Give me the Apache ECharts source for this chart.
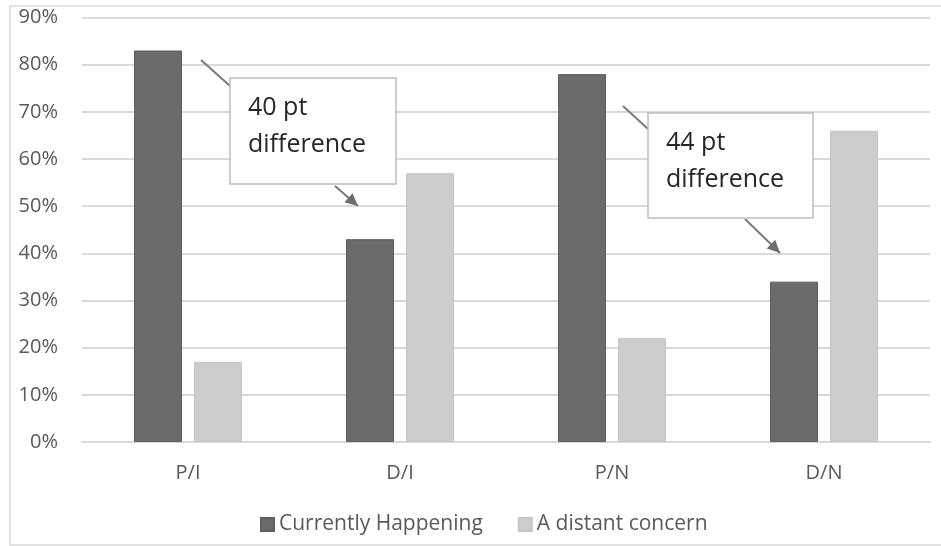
<!DOCTYPE html>
<html>
<head>
<meta charset="utf-8">
<script src="https://cdn.jsdelivr.net/npm/echarts@6/dist/echarts.min.js"></script>
<style>
html,body{margin:0;padding:0;background:#fff;}
#main{width:941px;height:546px;}
</style>
</head>
<body>
<div id="main"></div>
<script>
const categories = ['P/I', 'D/I', 'P/N', 'D/N'];
const currentlyHappening = [83, 43, 78, 34];
const distantConcern = [17, 57, 22, 66];
const seriesNames = ['Currently Happening', 'A distant concern'];
const annotationTexts = ['40 pt\ndifference', '44 pt\ndifference'];

const FONT = '"Open Sans", "Noto Sans", sans-serif';
const chart = echarts.init(document.getElementById('main'), null, {renderer: 'canvas'});

const option = {
  animation: false,
  backgroundColor: '#fff',
  grid: {left: 82, right: 11, top: 17.5, bottom: 104, containLabel: false},
  legend: {
    bottom: 6,
    left: 255,
    itemWidth: 13,
    itemHeight: 13,
    itemGap: 35,
    icon: 'rect',
    textStyle: {color: '#595959', fontSize: 21, fontFamily: FONT},
    data: seriesNames
  },
  xAxis: {
    type: 'category',
    data: categories,
    axisLine: {lineStyle: {color: '#d9d9d9', width: 2}},
    axisTick: {show: false},
    axisLabel: {color: '#595959', fontSize: 20, fontFamily: FONT, margin: 21}
  },
  yAxis: {
    type: 'value',
    min: 0, max: 90, interval: 10,
    axisLine: {show: false},
    axisTick: {show: false},
    splitLine: {lineStyle: {color: '#d9d9d9', width: 2}},
    axisLabel: {color: '#595959', fontSize: 20, fontFamily: FONT, margin: 24, formatter: '{value}%'}
  },
  series: [
    {
      name: seriesNames[0], type: 'bar', data: currentlyHappening,
      barWidth: 48, barGap: '25%',
      itemStyle: {color: '#6b6b6b', borderColor: '#5e5e5e', borderWidth: 1}
    },
    {
      name: seriesNames[1], type: 'bar', data: distantConcern,
      barWidth: 48,
      itemStyle: {color: '#cccccc', borderColor: '#c6c6c6', borderWidth: 1}
    }
  ],
  graphic: [
    {type: 'rect', shape: {x: 10, y: 6, width: 940, height: 539}, style: {fill: 'none', stroke: '#d9d9d9', lineWidth: 1.5}, silent: true, z: 0}
  ]
};
chart.setOption(option);

function arrowHead(x1, y1, x2, y2, size) {
  const a = Math.atan2(y2 - y1, x2 - x1);
  const w = 0.45;
  return [[x2, y2],
    [x2 - size * Math.cos(a - w), y2 - size * Math.sin(a - w)],
    [x2 - size * Math.cos(a + w), y2 - size * Math.sin(a + w)]];
}

function annotation(box, lineFrom, lineTo, arrFrom, arrTo, text) {
  const els = [];
  els.push({type: 'line', shape: {x1: lineFrom[0], y1: lineFrom[1], x2: lineTo[0], y2: lineTo[1]}, style: {stroke: '#7a7a7a', lineWidth: 2}, z: 10});
  els.push({type: 'line', shape: {x1: arrFrom[0], y1: arrFrom[1], x2: arrTo[0], y2: arrTo[1]}, style: {stroke: '#7a7a7a', lineWidth: 2}, z: 10});
  els.push({type: 'polygon', shape: {points: arrowHead(arrFrom[0], arrFrom[1], arrTo[0], arrTo[1], 14)}, style: {fill: '#6e6e6e'}, z: 11});
  els.push({type: 'rect', shape: {x: box[0], y: box[1], width: box[2], height: box[3]}, style: {fill: '#fff', stroke: '#bdbdbd', lineWidth: 1.5}, z: 12});
  els.push({type: 'text', x: box[0] + 18, y: box[1] + 11, style: {text: text, fill: '#262626', font: '25px ' + FONT, lineHeight: 37, textVerticalAlign: 'top'}, z: 13});
  return els;
}

const g = option.graphic.concat(
  annotation([230, 78, 166, 106], [201, 60], [230, 86], [335, 186], [358, 206], annotationTexts[0]),
  annotation([648, 113, 165, 105], [623, 106], [648, 129], [745, 219], [780, 253], annotationTexts[1])
);
chart.setOption({graphic: g});
</script>
</body>
</html>
